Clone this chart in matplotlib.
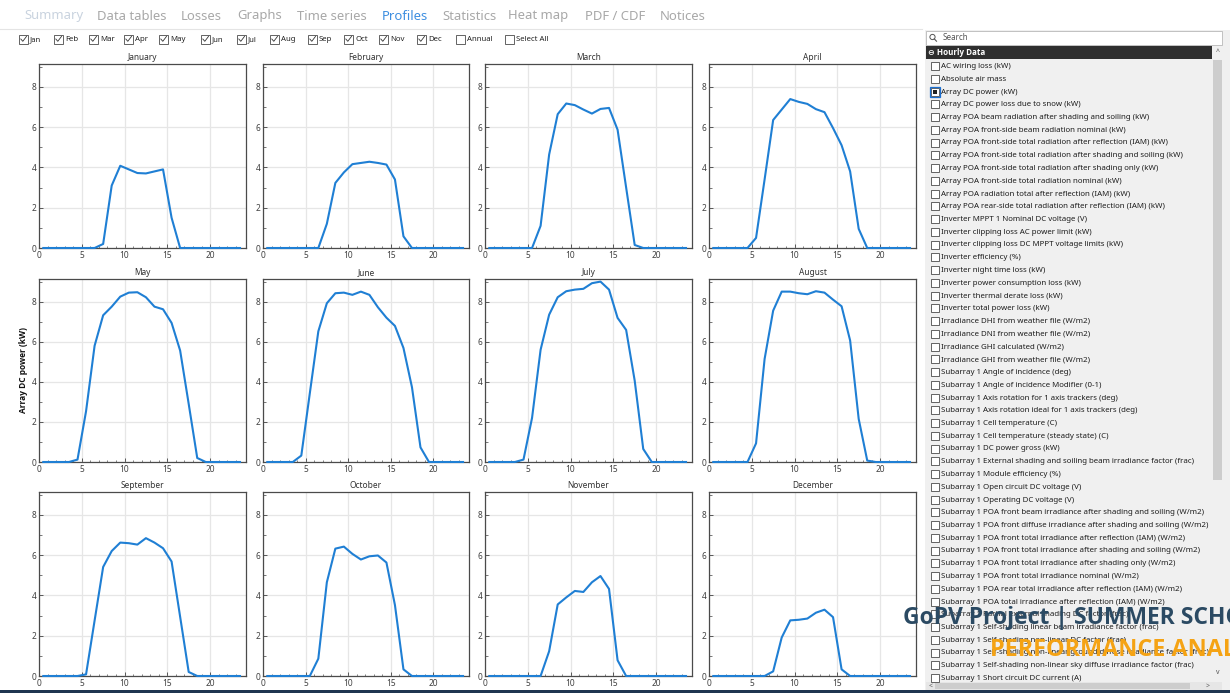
import numpy as np
import matplotlib
matplotlib.use('Agg')
import matplotlib.pyplot as plt
from matplotlib.patches import Rectangle, Circle

plt.rcParams['font.family'] = ['Noto Sans', 'DejaVu Sans']
BOLD = ['Open Sans', 'DejaVu Sans']

# hourly profile of array DC power (kW), one value per hour of day
hours = np.arange(24) + 0.5

jan = [0, 0, 0, 0, 0, 0, 0, 0.2, 3.1, 4.08, 3.9, 3.72, 3.7, 3.8, 3.9, 1.5, 0, 0, 0, 0, 0, 0, 0, 0]
feb = [0, 0, 0, 0, 0, 0, 0, 1.2, 3.23, 3.75, 4.16, 4.22, 4.28, 4.22, 4.14, 3.4, 0.58, 0, 0, 0, 0, 0, 0, 0]
mar = [0, 0, 0, 0, 0, 0, 1.1, 4.64, 6.64, 7.17, 7.09, 6.87, 6.67, 6.9, 6.95, 5.87, 3.0, 0.15, 0, 0, 0, 0, 0, 0]
apr = [0, 0, 0, 0, 0, 0.5, 3.4, 6.35, 6.87, 7.39, 7.25, 7.15, 6.89, 6.74, 5.95, 5.1, 3.8, 0.95, 0, 0, 0, 0, 0, 0]
may = [0, 0, 0, 0, 0.12, 2.53, 5.8, 7.32, 7.75, 8.25, 8.45, 8.47, 8.22, 7.75, 7.62, 6.94, 5.56, 2.9, 0.2, 0, 0, 0, 0, 0]
jun = [0, 0, 0, 0, 0.32, 3.43, 6.52, 7.92, 8.42, 8.45, 8.34, 8.5, 8.34, 7.72, 7.2, 6.79, 5.69, 3.73, 0.73, 0, 0, 0, 0, 0]
jul = [0, 0, 0, 0, 0.12, 2.2, 5.6, 7.35, 8.22, 8.52, 8.6, 8.64, 8.92, 9.0, 8.6, 7.19, 6.59, 4.06, 0.65, 0, 0, 0, 0, 0]
aug = [0, 0, 0, 0, 0, 0.93, 5.14, 7.55, 8.5, 8.5, 8.42, 8.37, 8.52, 8.45, 8.1, 7.77, 6.06, 2.15, 0.07, 0, 0, 0, 0, 0]
sep = [0, 0, 0, 0, 0, 0.08, 2.75, 5.41, 6.2, 6.62, 6.59, 6.52, 6.84, 6.62, 6.34, 5.68, 2.94, 0.2, 0, 0, 0, 0, 0, 0]
oct_ = [0, 0, 0, 0, 0, 0, 0.86, 4.65, 6.32, 6.42, 6.06, 5.78, 5.94, 5.98, 5.63, 3.52, 0.33, 0, 0, 0, 0, 0, 0, 0]
nov = [0, 0, 0, 0, 0, 0, 0, 1.23, 3.55, 3.9, 4.22, 4.17, 4.65, 4.96, 4.32, 0.78, 0, 0, 0, 0, 0, 0, 0, 0]
dec = [0, 0, 0, 0, 0, 0, 0, 0.23, 1.91, 2.76, 2.79, 2.85, 3.14, 3.29, 2.92, 0.33, 0, 0, 0, 0, 0, 0, 0, 0]

month_names = ['January', 'February', 'March', 'April', 'May', 'June',
               'July', 'August', 'September', 'October', 'November', 'December']
profiles = [jan, feb, mar, apr, may, jun, jul, aug, sep, oct_, nov, dec]

tabs = ['Summary', 'Data tables', 'Losses', 'Graphs', 'Time series', 'Profiles',
        'Statistics', 'Heat map', 'PDF / CDF', 'Notices']
tab_x = [24, 97, 181, 237, 297, 382, 442, 508, 585, 660]

month_boxes = ['Jan', 'Feb', 'Mar', 'Apr', 'May', 'Jun', 'Jul', 'Aug', 'Sep', 'Oct',
               'Nov', 'Dec', 'Annual', 'Select All']
month_box_x = [19, 54, 89, 124, 159, 201, 237, 270, 308, 344, 379, 417, 456, 505]

variables = [
    'AC wiring loss (kW)',
    'Absolute air mass',
    'Array DC power (kW)',
    'Array DC power loss due to snow (kW)',
    'Array POA beam radiation after shading and soiling (kW)',
    'Array POA front-side beam radiation nominal (kW)',
    'Array POA front-side total radiation after reflection (IAM) (kW)',
    'Array POA front-side total radiation after shading and soiling (kW)',
    'Array POA front-side total radiation after shading only (kW)',
    'Array POA front-side total radiation nominal (kW)',
    'Array POA radiation total after reflection (IAM) (kW)',
    'Array POA rear-side total radiation after reflection (IAM) (kW)',
    'Inverter MPPT 1 Nominal DC voltage (V)',
    'Inverter clipping loss AC power limit (kW)',
    'Inverter clipping loss DC MPPT voltage limits (kW)',
    'Inverter efficiency (%)',
    'Inverter night time loss (kW)',
    'Inverter power consumption loss (kW)',
    'Inverter thermal derate loss (kW)',
    'Inverter total power loss (kW)',
    'Irradiance DHI from weather file (W/m2)',
    'Irradiance DNI from weather file (W/m2)',
    'Irradiance GHI calculated (W/m2)',
    'Irradiance GHI from weather file (W/m2)',
    'Subarray 1 Angle of incidence (deg)',
    'Subarray 1 Angle of incidence Modifier (0-1)',
    'Subarray 1 Axis rotation for 1 axis trackers (deg)',
    'Subarray 1 Axis rotation ideal for 1 axis trackers (deg)',
    'Subarray 1 Cell temperature (C)',
    'Subarray 1 Cell temperature (steady state) (C)',
    'Subarray 1 DC power gross (kW)',
    'Subarray 1 External shading and soiling beam irradiance factor (frac)',
    'Subarray 1 Module efficiency (%)',
    'Subarray 1 Open circuit DC voltage (V)',
    'Subarray 1 Operating DC voltage (V)',
    'Subarray 1 POA front beam irradiance after shading and soiling (W/m2)',
    'Subarray 1 POA front diffuse irradiance after shading and soiling (W/m2)',
    'Subarray 1 POA front total irradiance after reflection (IAM) (W/m2)',
    'Subarray 1 POA front total irradiance after shading and soiling (W/m2)',
    'Subarray 1 POA front total irradiance after shading only (W/m2)',
    'Subarray 1 POA front total irradiance nominal (W/m2)',
    'Subarray 1 POA rear total irradiance after reflection (IAM) (W/m2)',
    'Subarray 1 POA total irradiance after reflection (IAM) (W/m2)',
    'Subarray 1 Partial external shading DC factor (frac)',
    'Subarray 1 Self-shading linear beam irradiance factor (frac)',
    'Subarray 1 Self-shading non-linear DC factor (frac)',
    'Subarray 1 Self-shading non-linear ground diffuse irradiance factor (frac)',
    'Subarray 1 Self-shading non-linear sky diffuse irradiance factor (frac)',
    'Subarray 1 Short circuit DC current (A)',
]
selected = 'Array DC power (kW)'

W, H = 1230, 693
fig = plt.figure(figsize=(W / 100, H / 100), dpi=100)
fig.patch.set_facecolor('white')

# background layer in pixel coordinates for the window chrome
ui = fig.add_axes([0, 0, 1, 1], zorder=-1)
ui.set_xlim(0, W)
ui.set_ylim(H, 0)
ui.axis('off')

for name, x in zip(tabs, tab_x):
    col = '#a8a8a8'
    if name == 'Summary':
        col = '#c9d3df'
    elif name == 'Profiles':
        col = '#3d8ee0'
    ui.text(x, 16, name, fontsize=9.4, color=col, va='center', ha='left')
ui.plot([0, 922], [29, 29], color='#e4e4e4', lw=0.8)


def checkbox(x, y, size, checked, filled=False):
    ui.add_patch(Rectangle((x, y - size / 2), size, size, fc='white', ec='#4a4a4a', lw=0.6))
    if checked:
        ui.plot([x + 1.8, x + 3.8, x + size - 1.5], [y, y + 2.3, y - 2.6],
                color='#333333', lw=0.6)
    if filled:
        ui.add_patch(Rectangle((x - 1, y - size / 2 - 1), size + 2, size + 2,
                               fc='none', ec='#1c6fd0', lw=0.9))
        ui.add_patch(Rectangle((x + 2, y - size / 2 + 2), size - 4, size - 4,
                               fc='#222222', ec='none'))


for label, x in zip(month_boxes, month_box_x):
    checkbox(x, 39, 9, label not in ('Annual', 'Select All'))
    ui.text(x + 11, 39.5, label, fontsize=5.6, color='#222222', va='center', ha='left')

# right-hand variable picker
ui.add_patch(Rectangle((925, 30), 305, 660, fc='#f0f0f0', ec='none'))
ui.add_patch(Rectangle((926, 31), 296, 14, fc='white', ec='#b8b8b8', lw=0.6))
ui.add_patch(Circle((932.5, 37), 2.6, fc='none', ec='#555555', lw=0.7))
ui.plot([934.3, 936.5], [38.9, 41.2], color='#555555', lw=0.8)
ui.text(943, 38, 'Search', fontsize=5.8, color='#555555', va='center')
ui.add_patch(Rectangle((926, 46), 286, 13, fc='#2f2f2f', ec='none'))
ui.text(928, 52.5, '⊖ Hourly Data', fontsize=5.8, color='white', weight='bold',
        family=BOLD, va='center')
ui.add_patch(Rectangle((1213, 46), 10, 13, fc='#f0f0f0', ec='none'))
ui.text(1217.5, 53, '^', fontsize=5, color='#555555', ha='center', va='center')
ui.add_patch(Rectangle((1213, 60), 9, 420, fc='#cdcdcd', ec='none'))
ui.text(1217.5, 672, 'v', fontsize=5, color='#555555', ha='center', va='center')
ui.add_patch(Rectangle((926, 682), 296, 8, fc='#e6e6e6', ec='none'))
ui.add_patch(Rectangle((935, 683), 255, 6, fc='#cdcdcd', ec='none'))
ui.text(929, 686, '<', fontsize=5, color='#555555', va='center')
ui.text(1206, 686, '>', fontsize=5, color='#555555', va='center')

for i, name in enumerate(variables):
    y = 66 + 12.75 * i
    if y > 680:
        break
    checkbox(931, y, 8, False, filled=(name == selected))
    ui.text(941, y + 0.5, name, fontsize=5.7, color='#1e1e1e', va='center', ha='left')

ui.add_patch(Rectangle((0, 689.5), W, 4, fc='#1f3550', ec='none'))

# month profile panels, 4 columns x 3 rows (pixel extents)
cols = [(39, 246), (263, 469), (485, 692), (709, 916)]
rows = [(64, 248), (279, 462), (492, 676)]

for k, (name, vals) in enumerate(zip(month_names, profiles)):
    l, r = cols[k % 4]
    t, b = rows[k // 4]
    ax = fig.add_axes([l / W, 1 - b / H, (r - l) / W, (b - t) / H])
    ax.plot(hours, vals, color='#1f7fd4', lw=1.5, clip_on=False, zorder=3)
    ax.set_xlim(0, 24.2)
    ax.set_ylim(0, 9.13)
    ax.set_xticks([0, 5, 10, 15, 20])
    ax.set_xticks(np.arange(1, 24), minor=True)
    ax.set_yticks([0, 2, 4, 6, 8])
    ax.set_yticks([1, 3, 5, 7, 9], minor=True)
    ax.grid(True, which='major', color='#e6e6e6', lw=0.9)
    ax.set_axisbelow(True)
    ax.tick_params(which='major', direction='in', length=3, width=0.6,
                   labelsize=6, colors='#404040', pad=2)
    ax.tick_params(which='minor', direction='in', length=1.8, width=0.5, colors='#404040')
    for s in ax.spines.values():
        s.set_color('#4a4a4a')
        s.set_linewidth(0.9)
    ax.set_title(name, fontsize=6, color='#333333', pad=3)

fig.text(24 / W, 1 - 370 / H, 'Array DC power (kW)', rotation=90, fontsize=6,
         weight='bold', family=BOLD, color='#111111', ha='center', va='center')

# course watermark over the lower right corner
fig.text(903 / W, 1 - 618 / H, 'GoPV Project | SUMMER SCHOOL', fontsize=16.5,
         weight='bold', family=BOLD, color='#2b4a63', ha='left', va='center', zorder=20)
fig.text(990 / W, 1 - 650 / H, 'PERFORMANCE ANALYSIS', fontsize=16.8,
         weight='bold', family=BOLD, color='#f5a314', ha='left', va='center', zorder=20)

fig.savefig('out.png', dpi=100)
